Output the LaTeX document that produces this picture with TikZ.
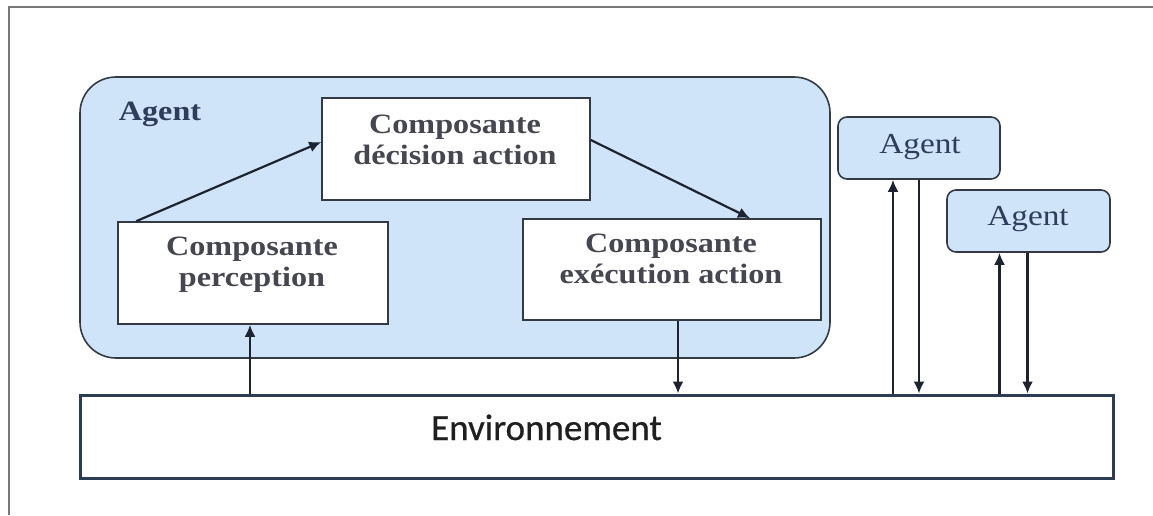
\documentclass[tikz,border=0pt]{standalone}
\usepackage{fontspec}
\usetikzlibrary{arrows.meta}
\newfontfamily\boxfont[FakeStretch=1.15]{Liberation Serif}
\newfontfamily\envfont[FakeBold=0.6]{Carlito}
\definecolor{agentfill}{RGB}{207,228,248}
\definecolor{boxline}{RGB}{52,58,68}
\definecolor{boxtext}{RGB}{70,70,80}
\definecolor{agenttext}{RGB}{44,62,92}
\definecolor{envline}{RGB}{44,60,84}
\definecolor{arrowcol}{RGB}{30,35,48}
\definecolor{framecol}{RGB}{120,120,120}
\begin{document}
\begin{tikzpicture}[x=1pt,y=-1pt,
  compbox/.style={draw=boxline,line width=1.6pt,fill=white,rectangle,inner sep=0pt},
  comptext/.style={inner sep=0pt,align=center,anchor=north,text=boxtext,
    font=\boxfont\bfseries\fontsize{28}{31}\selectfont},
  agentbox/.style={draw=boxline,line width=1.6pt,fill=agentfill,rectangle,inner sep=0pt},
  agentlabel/.style={inner sep=0pt,anchor=base,text=agenttext,
    font=\boxfont\fontsize{29}{31}\selectfont},
  arr/.style={draw=arrowcol,line width=2.2pt,-{Latex[length=12pt,width=11pt]}}]
  \useasboundingbox (0,0) rectangle (1153,515);
  % page frame
  \draw[framecol,line width=2pt] (9,515) -- (9,7) -- (1153,7);

  % main agent
  \node[agentbox,rounded corners=36pt,minimum width=750pt,minimum height=281pt]
    (agent) at (455,217.5) {};
  \node[inner sep=0pt,anchor=base,text=agenttext,
    font=\boxfont\bfseries\fontsize{28}{31}\selectfont] (agentname) at (160,120) {Agent};

  % components
  \node[compbox,minimum width=268pt,minimum height=102pt] (dec) at (456,149) {};
  \node[comptext] (dectext) at (455,114.5) {Composante\\décision action};
  \node[compbox,minimum width=270pt,minimum height=102pt] (perc) at (253,273) {};
  \node[comptext] (perctext) at (252,236.5) {Composante\\perception};
  \node[compbox,minimum width=298pt,minimum height=101pt] (exec) at (672,269.5) {};
  \node[comptext] (exectext) at (671,233.5) {Composante\\exécution action};

  % other agents
  \node[agentbox,rounded corners=9pt,minimum width=162pt,minimum height=62pt]
    (agentb) at (919,148) {};
  \node[agentlabel] (agentbname) at (920,153) {Agent};
  \node[agentbox,rounded corners=9pt,minimum width=163pt,minimum height=62pt]
    (agentc) at (1028.5,221) {};
  \node[agentlabel] (agentcname) at (1028,225) {Agent};

  % environment
  \node[draw=envline,line width=3pt,fill=white,rectangle,inner sep=0pt,
    minimum width=1033pt,minimum height=83pt] (env) at (596.5,436.5) {};
  \node[inner sep=0pt,anchor=base,text=black!88,
    font=\envfont\fontsize{37}{40}\selectfont] (envtext) at (546.5,440) {Environnement};

  % internal flow
  \draw[arr] ([xshift=19pt]perc.north west) -- ([yshift=7pt]dec.west);
  \draw[arr] ([yshift=9pt]dec.east) -- ([xshift=78pt]exec.north);
  \draw[arr] ([xshift=-3pt]perc.south |- env.north) -- ([xshift=-3pt]perc.south);
  \draw[arr] ([xshift=6pt]exec.south) -- ([xshift=6pt]exec.south |- env.north);

  % exchanges of the other agents with the environment
  \draw[arr] ([xshift=-26pt]agentb.south |- env.north) -- ([xshift=-26pt]agentb.south);
  \draw[arr] (agentb.south) -- (agentb.south |- env.north);
  \draw[arr] ([xshift=-29pt]agentc.south |- env.north) -- ([xshift=-29pt]agentc.south);
  \draw[arr] ([xshift=-1pt]agentc.south) -- ([xshift=-1pt]agentc.south |- env.north);
\end{tikzpicture}
\end{document}
